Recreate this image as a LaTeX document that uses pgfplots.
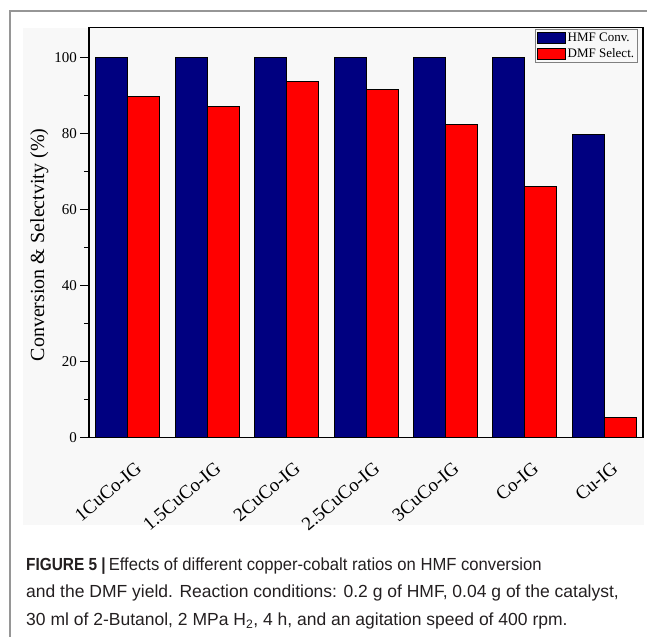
\documentclass[border=0pt]{standalone}
\usepackage{fontspec}
\setmainfont{Liberation Serif}
\newfontfamily\capfont{Liberation Sans}
\newfontfamily\capfontn[FakeStretch=0.95]{Liberation Sans}
\newfontfamily\capfontb[FakeStretch=0.88]{Liberation Sans Bold}
\usepackage{pgfplots}
\pgfplotsset{compat=1.18}
\definecolor{navyb}{RGB}{0,0,128}
\definecolor{redb}{RGB}{255,0,0}
\definecolor{panel}{RGB}{248,248,248}
\definecolor{framec}{RGB}{150,150,150}
\definecolor{captext}{RGB}{35,31,32}
\begin{document}
\begin{tikzpicture}
\useasboundingbox (-89bp,-199.3bp) rectangle (558bp,437.7bp);
\fill[panel] (-66bp,-87.3bp) rectangle (555bp,409.7bp);
\draw[framec, line width=1.5bp] (-79bp,-199.3bp) -- (-79bp,426.7bp) -- (558bp,426.7bp);
\begin{axis}[
  at={(0,0)}, anchor=south west,
  scale only axis, width=554bp, height=410.2bp,
  ybar=0pt, bar width=32bp,
  xmin=-0.49, xmax=6.49, ymin=0, ymax=108,
  xtick={0,1,2,3,4,5,6},
  xticklabels={1CuCo-IG,1.5CuCo-IG,2CuCo-IG,2.5CuCo-IG,3CuCo-IG,Co-IG,Cu-IG},
  ytick={0,20,40,60,80,100}, minor y tick num=1,
  ytick pos=left, xtick pos=left,
  tick align=outside,
  major tick length=8.5bp, minor tick length=5bp,
  tick style={black, line width=1bp},
  xtick style={draw=none},
  axis line style={line width=1.2bp},
  /pgf/number format/assume math mode=true,
  yticklabel style={font=\fontsize{15bp}{18bp}\selectfont},
  xticklabel style={font=\fontsize{19bp}{22bp}\selectfont, inner sep=0pt, xshift=11bp, yshift=-19.6bp, rotate=40, anchor=east},
  ylabel={Conversion \& Selectvity (\%)},
  ylabel style={font=\fontsize{20bp}{24bp}\selectfont, at={(axis description cs:-0.0895,0.47)}, anchor=center},
  legend style={at={(1,1)}, anchor=north east, xshift=-5bp, yshift=-1.5bp,
    draw=gray, line width=0.8bp, fill=panel, inner sep=1.5bp, row sep=1.5bp,
    font=\fontsize{13bp}{15bp}\selectfont, cells={anchor=west}},
]
\addplot[fill=navyb, draw=black, line width=0.8bp,
  legend image code/.code={\draw[fill=navyb, draw=black, line width=0.8bp] (0bp,-5.5bp) rectangle (28bp,5.5bp);}]
  coordinates {(0,100) (1,100) (2,100) (3,100) (4,100) (5,100) (6,79.9)};
\addplot[fill=redb, draw=black, line width=0.8bp,
  legend image code/.code={\draw[fill=redb, draw=black, line width=0.8bp] (0bp,-5.5bp) rectangle (28bp,5.5bp);}]
  coordinates {(0,89.8) (1,87.1) (2,93.8) (3,91.6) (4,82.4) (5,66.1) (6,5.4)};
\legend{HMF Conv., DMF Select.}
\end{axis}
\begin{scope}[every node/.style={anchor=base west, inner sep=0pt, text=captext, font=\capfont\fontsize{17.5bp}{21bp}\selectfont}]
\node at (-63bp,-132.3bp) {{\capfontb FIGURE 5 |}\kern3bp{\capfontn Effects of different copper-cobalt ratios on HMF conversion}};
\node at (-63bp,-160bp) {and the DMF yield. Reaction conditions: 0.2 g of HMF, 0.04 g of the catalyst,};
\node at (-63bp,-188bp) {30 ml of 2-Butanol, 2 MPa H\textsubscript{2}, 4 h, and an agitation speed of 400 rpm.};
\end{scope}
\end{tikzpicture}
\end{document}
